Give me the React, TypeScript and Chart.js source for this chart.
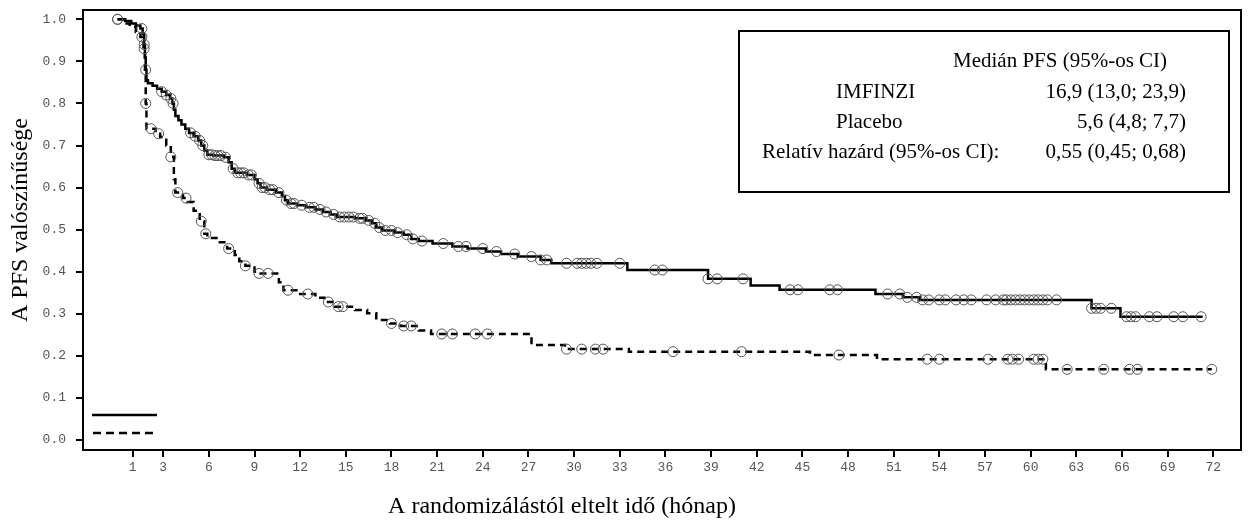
import React, { useEffect, useRef } from 'react';
import { Chart, registerables } from 'chart.js';

Chart.register(...registerables);

// ---- tick labels ----
const xTickValues = [1, 3, 6, 9, 12, 15, 18, 21, 24, 27, 30, 33, 36, 39, 42, 45, 48, 51, 54, 57, 60, 63, 66, 69, 72];
const yTickValues = [0, 0.1, 0.2, 0.3, 0.4, 0.5, 0.6, 0.7, 0.8, 0.9, 1.0];

// ---- texts ----
const xTitle = 'A randomizálástól eltelt idő (hónap)';
const yTitle = 'A PFS valószínűsége';
const legendHeader = 'Medián PFS (95%-os CI)';
const legendRows = [
  { label: 'IMFINZI', value: '16,9 (13,0; 23,9)' },
  { label: 'Placebo', value: '5,6 (4,8; 7,7)' },
];
const hrLabel = 'Relatív hazárd (95%-os CI):';
const hrValue = '0,55 (0,45; 0,68)';

// ---- IMFINZI (solid) Kaplan-Meier steps ----
const imfinziTime = [0, 0.5, 0.9, 1.2, 1.5, 1.65, 1.75, 1.8, 1.85, 1.9, 2.0, 2.3, 2.6, 2.9, 3.2, 3.45, 3.6, 3.7, 3.8, 4.0, 4.2, 4.45, 4.7, 5.0, 5.3, 5.5, 5.7, 5.9, 6.3, 7.0, 7.3, 7.5, 7.7, 8.5, 9.0, 9.2, 9.4, 9.8, 10.4, 10.8, 11.0, 11.2, 11.8, 12.4, 13.0, 13.5, 14.0, 14.4, 15.6, 16.3, 16.7, 17.0, 17.4, 18.2, 18.8, 19.3, 19.8, 20.7, 22.0, 23.0, 24.2, 25.2, 26.3, 27.8, 28.5, 33.5, 38.8, 41.6, 43.5, 49.8, 51.6, 52.7, 64.0, 65.9, 71.3];
const imfinziSurv = [1.0, 0.996, 0.99, 0.985, 0.978, 0.965, 0.94, 0.91, 0.88, 0.855, 0.848, 0.842, 0.835, 0.828, 0.82, 0.812, 0.8, 0.785, 0.77, 0.76, 0.75, 0.74, 0.73, 0.722, 0.712, 0.7, 0.688, 0.678, 0.676, 0.672, 0.66, 0.645, 0.635, 0.63, 0.62, 0.61, 0.6, 0.595, 0.588, 0.58, 0.57, 0.562, 0.558, 0.553, 0.548, 0.542, 0.536, 0.53, 0.527, 0.522, 0.515, 0.505, 0.498, 0.493, 0.488, 0.478, 0.473, 0.467, 0.46, 0.455, 0.448, 0.442, 0.436, 0.428, 0.42, 0.404, 0.383, 0.367, 0.357, 0.347, 0.339, 0.333, 0.313, 0.293, 0.293];
const imfinziCensor = [0, 1.6, 1.75, 1.85, 2.9, 3.2, 3.5, 3.65, 4.8, 5.1, 5.4, 5.6, 6.0, 6.2, 6.4, 6.6, 6.8, 7.1, 7.6, 7.9, 8.1, 8.3, 8.6, 8.8, 9.3, 9.5, 9.7, 10.0, 10.2, 10.6, 11.1, 11.4, 11.6, 12.1, 12.6, 12.9, 13.3, 13.7, 14.2, 14.6, 14.9, 15.2, 15.5, 15.9, 16.1, 16.5, 16.9, 17.2, 17.6, 18.0, 18.4, 19.0, 19.4, 20.0, 21.4, 22.4, 22.9, 24.0, 24.9, 26.1, 27.2, 27.8, 28.2, 29.5, 30.2, 30.5, 30.8, 31.1, 31.5, 33.0, 35.3, 35.8, 38.8, 39.4, 41.1, 44.2, 44.7, 46.8, 47.3, 50.6, 51.4, 51.9, 52.5, 52.9, 53.3, 54.0, 54.4, 55.1, 55.6, 56.1, 57.1, 57.7, 58.2, 58.4, 58.7, 59.0, 59.3, 59.6, 59.9, 60.2, 60.5, 60.8, 61.1, 61.7, 64.0, 64.3, 64.6, 65.3, 66.3, 66.6, 66.9, 67.8, 68.3, 69.4, 70.0, 71.2];

// ---- Placebo (dashed) Kaplan-Meier steps ----
const placeboTime = [0, 0.5, 0.8, 1.2, 1.5, 1.7, 1.8, 1.85, 1.9, 2.5, 2.8, 3.2, 3.5, 3.7, 3.8, 4.3, 4.6, 5.0, 5.4, 5.7, 5.9, 6.5, 7.2, 7.7, 8.0, 8.4, 9.0, 9.3, 10.6, 10.9, 12.0, 13.0, 13.6, 14.3, 15.6, 16.4, 17.0, 17.9, 18.6, 19.8, 20.6, 27.2, 29.4, 33.6, 45.5, 49.9, 61.0, 71.9];
const placeboSurv = [1.0, 0.99, 0.982, 0.97, 0.958, 0.93, 0.875, 0.8, 0.74, 0.728, 0.72, 0.70, 0.673, 0.62, 0.588, 0.575, 0.566, 0.545, 0.52, 0.49, 0.48, 0.47, 0.455, 0.44, 0.425, 0.414, 0.40, 0.396, 0.375, 0.356, 0.347, 0.338, 0.328, 0.317, 0.309, 0.301, 0.285, 0.277, 0.271, 0.26, 0.252, 0.226, 0.216, 0.21, 0.202, 0.192, 0.168, 0.168];
const placeboCensor = [0, 1.6, 1.75, 1.85, 2.2, 2.7, 3.5, 3.95, 4.5, 5.5, 5.8, 7.3, 8.4, 9.3, 9.9, 11.2, 12.5, 13.85, 14.5, 14.8, 18.0, 18.8, 19.3, 21.3, 22.0, 23.5, 24.3, 29.5, 30.5, 31.4, 31.9, 36.5, 41.0, 47.4, 53.2, 54.0, 57.2, 58.5, 58.8, 59.2, 60.2, 60.5, 60.8, 62.4, 64.8, 66.5, 67.0, 71.9];

const X_MIN = -2.27;
const X_MAX = 73.82;
const Y_MIN = -0.0238;
const Y_MAX = 1.0221;

function stepPoints(times: number[], surv: number[]) {
  return times.map((t, i) => ({ x: t, y: surv[i] }));
}
function survAt(times: number[], surv: number[], t: number) {
  let s = surv[0];
  for (let i = 0; i < times.length; i++) {
    if (times[i] <= t) s = surv[i];
    else break;
  }
  return s;
}
function censorPoints(censor: number[], times: number[], surv: number[]) {
  return censor.map((t) => ({ x: t, y: survAt(times, surv, t) }));
}

const SERIF = '"Liberation Serif", "Times New Roman", serif';
const MONO = '"Liberation Mono", "Courier New", monospace';

const decorPlugin = {
  id: 'decor',
  afterDraw(chart: any) {
    const { ctx, chartArea: ca } = chart;
    ctx.save();
    // frame
    ctx.strokeStyle = '#000';
    ctx.lineWidth = 2;
    ctx.setLineDash([]);
    ctx.strokeRect(ca.left, ca.top, ca.right - ca.left, ca.bottom - ca.top);

    // legend samples (bottom-left)
    ctx.lineWidth = 2.5;
    ctx.beginPath();
    ctx.moveTo(ca.left + 9, ca.bottom - 35);
    ctx.lineTo(ca.left + 74, ca.bottom - 35);
    ctx.stroke();
    ctx.setLineDash([8, 5]);
    ctx.beginPath();
    ctx.moveTo(ca.left + 10, ca.bottom - 17);
    ctx.lineTo(ca.left + 74, ca.bottom - 17);
    ctx.stroke();
    ctx.setLineDash([]);

    // legend box
    const bx = ca.right - 502;
    const by = ca.top + 21;
    ctx.fillStyle = '#fff';
    ctx.fillRect(bx, by, 490, 161);
    ctx.lineWidth = 2;
    ctx.strokeRect(bx, by, 490, 161);
    ctx.fillStyle = '#000';
    ctx.font = `21px ${SERIF}`;
    ctx.textBaseline = 'alphabetic';
    ctx.textAlign = 'left';
    ctx.fillText(legendHeader, bx + 214, by + 36);
    legendRows.forEach((r, i) => {
      const yy = by + 67 + i * 30;
      ctx.textAlign = 'left';
      ctx.fillText(r.label, bx + 97, yy);
      ctx.textAlign = 'right';
      ctx.fillText(r.value, bx + 447, yy);
    });
    ctx.textAlign = 'left';
    ctx.fillText(hrLabel, bx + 23, by + 127);
    ctx.textAlign = 'right';
    ctx.fillText(hrValue, bx + 447, by + 127);

    // axis titles
    ctx.font = `24px ${SERIF}`;
    ctx.textAlign = 'center';
    ctx.textBaseline = 'alphabetic';
    ctx.fillText(xTitle, 562, ca.bottom + 63);
    ctx.translate(27, 220);
    ctx.rotate(-Math.PI / 2);
    ctx.fillText(yTitle, 0, 0);
    ctx.restore();
  },
};

export default function App() {
  const ref = useRef<HTMLCanvasElement>(null);
  useEffect(() => {
    document.body.style.margin = '0';
    const canvas = ref.current;
    if (!canvas) return;
    const chart = new Chart(canvas, {
      type: 'line',
      data: {
        datasets: [
          {
            label: 'IMFINZI censored',
            data: censorPoints(imfinziCensor, imfinziTime, imfinziSurv),
            showLine: false,
            pointRadius: 5,
            pointStyle: 'circle',
            pointBorderColor: '#555',
            pointBackgroundColor: 'rgba(0,0,0,0)',
            pointBorderWidth: 1,
          },
          {
            label: 'Placebo censored',
            data: censorPoints(placeboCensor, placeboTime, placeboSurv),
            showLine: false,
            pointRadius: 5,
            pointStyle: 'circle',
            pointBorderColor: '#555',
            pointBackgroundColor: 'rgba(0,0,0,0)',
            pointBorderWidth: 1,
          },
          {
            label: 'IMFINZI',
            data: stepPoints(imfinziTime, imfinziSurv),
            stepped: 'before',
            borderColor: '#000',
            borderWidth: 2.5,
            pointRadius: 0,
            fill: false,
          },
          {
            label: 'Placebo',
            data: stepPoints(placeboTime, placeboSurv),
            stepped: 'before',
            borderColor: '#000',
            borderWidth: 2.5,
            borderDash: [7, 5],
            pointRadius: 0,
            fill: false,
          },
        ],
      },
      options: {
        responsive: false,
        animation: false,
        layout: { padding: { top: 10, right: 10, left: 0, bottom: 0 } },
        plugins: { legend: { display: false }, tooltip: { enabled: false } },
        scales: {
          x: {
            type: 'linear',
            min: X_MIN,
            max: X_MAX,
            afterBuildTicks: (s: any) => {
              s.ticks = xTickValues.map((v) => ({ value: v }));
            },
            afterFit: (s: any) => {
              s.height = 71;
              s.paddingLeft = 0;
              s.paddingRight = 0;
            },
            grid: { drawOnChartArea: false, tickLength: 7, lineWidth: 2, color: '#000' },
            border: { display: false },
            ticks: {
              autoSkip: false,
              maxRotation: 0,
              padding: 3,
              color: '#555',
              font: { family: MONO, size: 13 },
              callback: (v: any) => String(v),
            },
          },
          y: {
            type: 'linear',
            min: Y_MIN,
            max: Y_MAX,
            afterBuildTicks: (s: any) => {
              s.ticks = yTickValues.map((v) => ({ value: v }));
            },
            afterFit: (s: any) => {
              s.width = 83;
              s.paddingTop = 0;
              s.paddingBottom = 0;
            },
            grid: { drawOnChartArea: false, tickLength: 7, lineWidth: 2, color: '#000' },
            border: { display: false },
            ticks: {
              autoSkip: false,
              padding: 10,
              color: '#555',
              font: { family: MONO, size: 13 },
              callback: (v: any) => Number(v).toFixed(1),
            },
          },
        },
      },
      plugins: [decorPlugin],
    });
    return () => chart.destroy();
  }, []);
  return (
    <div style={{ width: 1251, height: 521 }}>
      <canvas ref={ref} width={1251} height={521} style={{ display: 'block' }} />
    </div>
  );
}
